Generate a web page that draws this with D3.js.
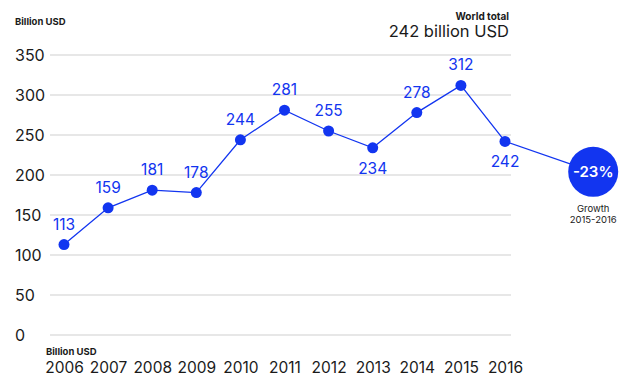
<!DOCTYPE html>
<html>
<head>
<meta charset="utf-8">
<script src="https://cdn.jsdelivr.net/npm/d3@7"></script>
<style>
  body { margin: 0; background: #fff; }
  svg { display: block; font-family: Inter, "Liberation Sans", Arial, sans-serif; }
</style>
</head>
<body>
<div id="container"></div>
<script>
// data
var years = ["2006", "2007", "2008", "2009", "2010", "2011", "2012", "2013", "2014", "2015", "2016"];
var investment = [113, 159, 181, 178, 244, 281, 255, 234, 278, 312, 242];
// labels that sit under the point instead of above
var labelBelow = ["2013", "2016"];
var yTicks = [0, 50, 100, 150, 200, 250, 300, 350];
var growthText = "-23%";
var growthLevel = 204; // vertical position of the growth bubble, in billion USD

var width = 640, height = 386;
var blue = "#1235f0";

var svg = d3.select("#container").append("svg")
    .attr("width", width)
    .attr("height", height);

// scales
var x = d3.scalePoint()
    .domain(years)
    .range([64, 505]);

var y = d3.scaleLinear()
    .domain([0, 350])
    .range([335, 55]);

// gridlines
svg.append("g")
    .selectAll("line")
    .data(yTicks)
    .join("line")
    .attr("x1", 50)
    .attr("x2", 511)
    .attr("y1", d => y(d))
    .attr("y2", d => y(d))
    .attr("stroke", "#cfcfcf")
    .attr("stroke-width", 1.2);

// y tick labels
svg.append("g")
    .selectAll("text")
    .data(yTicks)
    .join("text")
    .attr("x", 15)
    .attr("y", d => y(d))
    .attr("dy", "0.36em")
    .attr("font-size", 16)
    .attr("fill", "#1a1a1a")
    .text(d => d);

// x axis labels
var xAxis = d3.axisBottom(x).tickSize(0).tickPadding(0);
var gx = svg.append("g")
    .attr("transform", "translate(0,362)")
    .call(xAxis);
gx.select(".domain").remove();
gx.selectAll("text")
    .attr("font-size", 15.5)
    .attr("fill", "#1a1a1a")
    .attr("font-family", "Inter, sans-serif");

// axis unit labels
svg.append("text")
    .attr("x", 15).attr("y", 25)
    .attr("font-size", 9.5).attr("font-weight", 700)
    .attr("fill", "#1a1a1a")
    .text("Billion USD");

svg.append("text")
    .attr("x", 46).attr("y", 355)
    .attr("font-size", 9.5).attr("font-weight", 700)
    .attr("fill", "#1a1a1a")
    .text("Billion USD");

// world total header
svg.append("text")
    .attr("x", 509).attr("y", 20)
    .attr("text-anchor", "end")
    .attr("font-size", 10).attr("font-weight", 700)
    .attr("fill", "#1a1a1a")
    .text("World total");

svg.append("text")
    .attr("x", 509).attr("y", 37)
    .attr("text-anchor", "end")
    .attr("font-size", 16.5)
    .attr("fill", "#1a1a1a")
    .text(investment[investment.length - 1] + " billion USD");

// growth bubble position, one step past 2016 x2
var gxPos = x(years[years.length - 1]) + 2 * x.step();
var gyPos = y(growthLevel);
var lastX = x(years[years.length - 1]);
var lastY = y(investment[investment.length - 1]);

// connector from last point to the bubble
svg.append("line")
    .attr("x1", lastX).attr("y1", lastY)
    .attr("x2", gxPos).attr("y2", gyPos)
    .attr("stroke", blue)
    .attr("stroke-width", 1.3);

// the main line
var line = d3.line()
    .x((d, i) => x(years[i]))
    .y(d => y(d));

svg.append("path")
    .datum(investment)
    .attr("d", line)
    .attr("fill", "none")
    .attr("stroke", blue)
    .attr("stroke-width", 1.3);

// points
svg.append("g")
    .selectAll("circle")
    .data(investment)
    .join("circle")
    .attr("cx", (d, i) => x(years[i]))
    .attr("cy", d => y(d))
    .attr("r", 5.5)
    .attr("fill", blue);

// value labels
svg.append("g")
    .selectAll("text")
    .data(investment)
    .join("text")
    .attr("x", (d, i) => x(years[i]))
    .attr("y", (d, i) => labelBelow.indexOf(years[i]) >= 0 ? y(d) + 26 : y(d) - 15)
    .attr("text-anchor", "middle")
    .attr("font-size", 15.5)
    .attr("fill", blue)
    .text(d => d);

// bubble
svg.append("circle")
    .attr("cx", gxPos).attr("cy", gyPos)
    .attr("r", 25)
    .attr("fill", blue);

svg.append("text")
    .attr("x", gxPos).attr("y", gyPos)
    .attr("dy", "0.36em")
    .attr("text-anchor", "middle")
    .attr("font-size", 15)
    .attr("font-weight", 600)
    .attr("fill", "#fff")
    .text(growthText);

svg.append("text")
    .attr("x", gxPos).attr("y", gyPos + 40)
    .attr("text-anchor", "middle")
    .attr("font-size", 9.5)
    .attr("fill", "#1a1a1a")
    .text("Growth");

svg.append("text")
    .attr("x", gxPos).attr("y", gyPos + 51)
    .attr("text-anchor", "middle")
    .attr("font-size", 9.5)
    .attr("fill", "#1a1a1a")
    .text("2015-2016");
</script>
</body>
</html>
